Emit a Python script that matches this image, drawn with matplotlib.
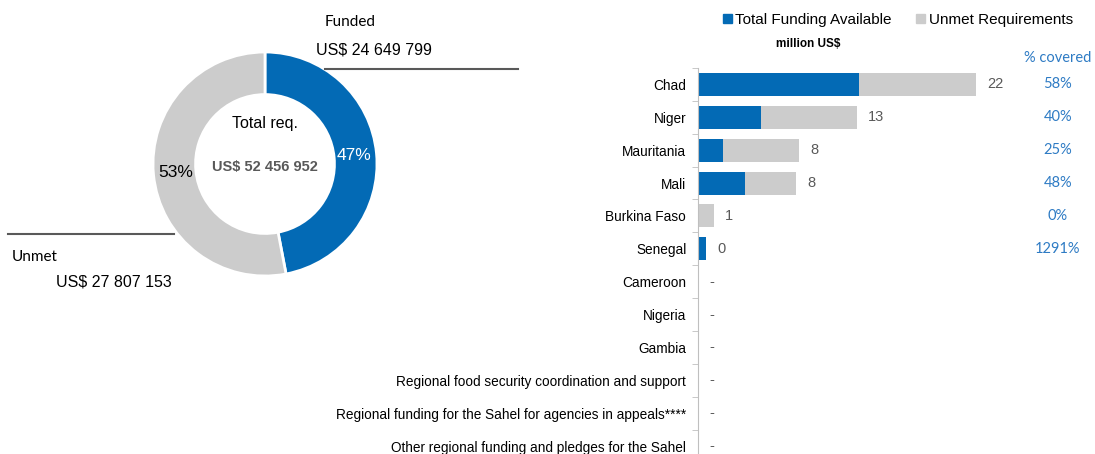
import numpy as np
import matplotlib
matplotlib.use("Agg")
import matplotlib.pyplot as plt
from matplotlib.lines import Line2D
from matplotlib.patches import Patch
import matplotlib.transforms as mtransforms

W, H = 1095, 454

# pie data
pie_labels = ["Funded", "Unmet"]
pie_values = [24649799, 27807153]
total_req = "US$ 52 456 952"

# bar data (million US$)
countries = ["Chad", "Niger", "Mauritania", "Mali", "Burkina Faso", "Senegal",
             "Cameroon", "Nigeria", "Gambia",
             "Regional food security coordination and support",
             "Regional funding for the Sahel for agencies in appeals****",
             "Other regional funding and pledges for the Sahel"]
funded = np.array([12.8, 5.0, 2.0, 3.74, 0.0, 0.63, 0, 0, 0, 0, 0, 0])
required = np.array([22.1, 12.6, 8.0, 7.8, 1.27, 0.05, 0, 0, 0, 0, 0, 0])
pct_covered = ["58%", "40%", "25%", "48%", "0%", "1291%"]

BLUE = "#036AB5"
GREY = "#CCCCCC"
DARK = "#595959"
PCTBLUE = "#2E7BC4"

plt.rcParams['font.family'] = ['Liberation Sans', 'DejaVu Sans']

fig = plt.figure(figsize=(W / 100, H / 100), dpi=100)


def fx(x):
    return x / W


def fy(y):
    return 1 - y / H


# ---- donut ----
cx, cy, r = 265, 164, 112
half = 150
axp = fig.add_axes([fx(cx - half), fy(cy + half), 2 * half / W, 2 * half / H])
wedges, _ = axp.pie(pie_values, startangle=90, counterclock=False,
                    colors=[BLUE, GREY],
                    wedgeprops=dict(width=0.38, edgecolor="white", linewidth=2))
lim = half / r
axp.set_xlim(-lim, lim)
axp.set_ylim(-lim, lim)
axp.set_aspect("equal")
axp.axis("off")

shares = np.array(pie_values) / sum(pie_values)
start = 90
for share, col in zip(shares, ["white", "black"]):
    mid = np.deg2rad(start - share * 180)
    axp.text(0.8 * np.cos(mid), 0.8 * np.sin(mid), f"{share * 100:.0f}%",
             ha="center", va="center", fontsize=12.5, color=col)
    start -= share * 360

axp.text(0, 0.36, "Total req.", ha="center", va="center", fontsize=11.5)
axp.text(0, -0.03, total_req, ha="center", va="center", fontsize=10.5,
         fontweight="bold", color=DARK)

fig.text(fx(325), fy(22), "Funded", fontsize=11, family="Lato", va="center")
fig.text(fx(316), fy(50), "US$ 24 649 799", fontsize=11.5, va="center")
fig.text(fx(12), fy(257), "Unmet", fontsize=11, family="Lato", va="center")
fig.text(fx(56), fy(282), "US$ 27 807 153", fontsize=11.5, va="center")
fig.add_artist(Line2D([fx(325), fx(518)], [fy(69), fy(69)], color=DARK, lw=1.5))
fig.add_artist(Line2D([fx(8), fx(174)], [fy(234), fy(234)], color=DARK, lw=1.5))

# ---- bars ----
ax_l, ax_r, ax_t, ax_b = 698, 1010, 68, 454
scale = 12.6
row0, step = 83, 33
axb = fig.add_axes([fx(ax_l), fy(ax_b), (ax_r - ax_l) / W, (ax_b - ax_t) / H])
unmet = np.maximum(required - funded, 0)
y = np.arange(len(countries))
axb.barh(y, funded, height=0.7, color=BLUE)
axb.barh(y, unmet, left=funded, height=0.7, color=GREY)
axb.set_xlim(0, (ax_r - ax_l) / scale)
axb.set_ylim((ax_b - row0) / step, (ax_t - row0) / step)
axb.set_yticks(y)
axb.set_yticklabels(countries, fontsize=9.8)
axb.set_yticks(np.arange(len(countries)) - 0.5, minor=True)
axb.tick_params(axis="y", which="major", length=0, pad=8.5)
axb.tick_params(axis="y", which="minor", length=4, color="#BFBFBF")
axb.set_xticks([])
for s in ["top", "right", "bottom"]:
    axb.spines[s].set_visible(False)
axb.spines["left"].set_color("#BFBFBF")

for i in range(len(countries)):
    end = max(funded[i], required[i])
    txt = f"{required[i]:.0f}" if required[i] > 0 else "-"
    axb.annotate(txt, (end, i), xytext=(8, 0), textcoords="offset points",
                 ha="left", va="center", fontsize=10.5, color=DARK)

trans = mtransforms.blended_transform_factory(fig.transFigure, axb.transData)
for i, p in enumerate(pct_covered):
    fig.text(fx(1058), i, p, transform=trans, ha="center", va="center",
             fontsize=10.5, family="Lato", color=PCTBLUE)
fig.text(fx(1058), fy(58), "% covered", ha="center", va="center",
         fontsize=10.5, family="Lato", color=PCTBLUE)
fig.text(fx(808), fy(44), "million US$", ha="center", va="center",
         fontsize=8.5, fontweight="bold")

handles = [Patch(color=BLUE, label="Total Funding Available"),
           Patch(color=GREY, label="Unmet Requirements")]
fig.legend(handles=handles, loc="center", bbox_to_anchor=(fx(898), fy(20)),
           ncol=2, frameon=False, fontsize=11, handlelength=0.55,
           handleheight=0.55, handletextpad=0.25, columnspacing=1.6)

fig.savefig("out.png", dpi=100)
